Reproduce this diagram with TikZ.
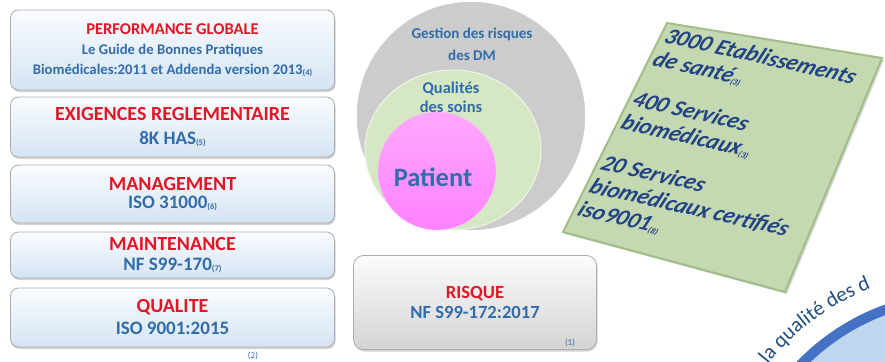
\documentclass[tikz,border=0pt]{standalone}
\usepackage{fontspec}
\setmainfont{Carlito}
\usetikzlibrary{shapes.geometric, shadows, decorations.text}

\definecolor{titlered}{RGB}{226,22,36}
\definecolor{refblue}{RGB}{50,108,170}
\definecolor{boxlight}{RGB}{250,252,255}
\definecolor{boxblue}{RGB}{212,228,243}
\definecolor{risklight}{RGB}{252,252,252}
\definecolor{riskgray}{RGB}{212,212,212}
\definecolor{diskgray}{RGB}{204,204,204}
\definecolor{diskgreen}{RGB}{213,232,195}
\definecolor{diskpink}{RGB}{255,130,255}
\definecolor{panelgreen}{RGB}{196,216,177}
\definecolor{paneledge}{RGB}{160,190,135}
\definecolor{navytext}{RGB}{34,68,132}
\definecolor{ringblue}{RGB}{68,114,196}
\definecolor{paleblue}{RGB}{190,215,238}
\definecolor{arctext}{RGB}{32,78,128}

\newcommand{\refnum}[1]{\raisebox{-1.5pt}{\fontsize{8.5}{8.5}\selectfont(#1)}}
\newcommand{\headline}[1]{{\fontsize{20}{20}\selectfont\color{titlered}#1}}

\tikzstyle{normbox} = [rounded corners=8pt, draw=gray!65, line width=0.8pt,
  top color=boxlight, bottom color=boxblue, minimum width=324pt,
  align=center, inner sep=0pt, text=refblue,
  font=\fontsize{19}{20}\selectfont\bfseries,
  drop shadow={shadow xshift=1pt, shadow yshift=-2pt, opacity=0.35}]
\tikzstyle{riskbox} = [normbox, top color=risklight, bottom color=riskgray,
  minimum width=243pt, minimum height=94pt, rounded corners=10pt]
\tikzstyle{disklabel} = [text=refblue, font=\fontsize{15}{22}\selectfont\bfseries, align=center]
\tikzstyle{footref} = [text=refblue, font=\fontsize{9}{9}\selectfont]

\begin{document}
\begin{tikzpicture}[x=1pt, y=-1pt]
\useasboundingbox (0,0) rectangle (885,361);
\clip (0,0) rectangle (885,361);

% left column
\node[normbox, minimum height=80pt, font=\fontsize{14.7}{20}\selectfont\bfseries] (perf) at (172.5,50)
  {{\fontsize{16.5}{16.5}\selectfont\color{titlered}PERFORMANCE GLOBALE}\\ Le Guide de Bonnes Pratiques\\ Biomédicales:2011 et Addenda version 2013\refnum{4}};
\node[normbox, minimum height=60pt] (exig) at (172.5,127)
  {\headline{EXIGENCES REGLEMENTAIRE}\\[4pt] 8K HAS\refnum{5}};
\node[normbox, minimum height=58pt] (manag) at (172.5,194)
  {\headline{MANAGEMENT}\\[-2pt] ISO 31000\refnum{6}};
\node[normbox, minimum height=46pt] (maint) at (172.5,255)
  {\headline{MAINTENANCE}\\ NF S99-170\refnum{7}};
\node[normbox, minimum height=59pt] (qual) at (172.5,317.5)
  {\headline{QUALITE}\\[2pt] ISO 9001:2015};
\node[footref] (ref2) at (253,356) {(2)};

% circles
\node[circle, fill=diskgray, draw=white, line width=1.5pt, minimum size=230pt] (gestion) at (471,116) {};
\node[ellipse, fill=diskgreen, draw=white!60!diskgreen, line width=1pt, minimum width=176pt, minimum height=160pt] (soins) at (453,150) {};
\node[circle, top color=diskpink!70!white, bottom color=diskpink, draw=white!50!diskpink, minimum size=118pt] (patientdisk) at (437,171) {};
\node[disklabel] (gestiontxt) at (472,44) {Gestion des risques\\ des DM};
\node[disklabel, font=\fontsize{16.5}{19}\selectfont\bfseries] (soinstxt) at (451,97) {Qualités\\ des soins};
\node[text=refblue, font=\fontsize{26.5}{26.5}\selectfont\bfseries] (patient) at (433,177) {Patient};

\node[riskbox, font=\fontsize{18.6}{20}\selectfont\bfseries] (risque) at (475,302.5)
  {{\fontsize{18.6}{18.6}\selectfont\color{titlered}RISQUE}\\ NF S99-172:2017};
\node[footref] (ref1) at (570,343) {(1)};

% green panel
\filldraw[fill=panelgreen, draw=paneledge, line width=2pt, drop shadow={shadow xshift=2pt, shadow yshift=-2pt, opacity=0.3}]
  (667,23) -- (882,58) -- (785,292) -- (563,232) -- cycle;
\node[anchor=north west, inner sep=0pt, align=left, text=navytext, rotate=-12.5, xslant=0.25,
  font=\fontsize{23}{25}\selectfont\bfseries\itshape] (stats) at (670,27)
  {3000 Etablissements\\ de santé\refnum{3}\\[19pt]
   400 Services\\ biomédicaux\refnum{3}\\[19pt]
   20 Services\\ biomédicaux certifiés\\ iso9001\refnum{8}};

% blue disk, bottom right
\node[circle, fill=paleblue, draw=ringblue, line width=10pt, minimum size=452pt] (bluedisk) at (963,522) {};
\path[decorate, decoration={text along path, text align=left,
  text={|\fontsize{21}{21}\selectfont\color{arctext}|la qualité des d}}]
  (963,522) ++(219:251) arc[start angle=219, end angle=265, radius=251];
\end{tikzpicture}
\end{document}
